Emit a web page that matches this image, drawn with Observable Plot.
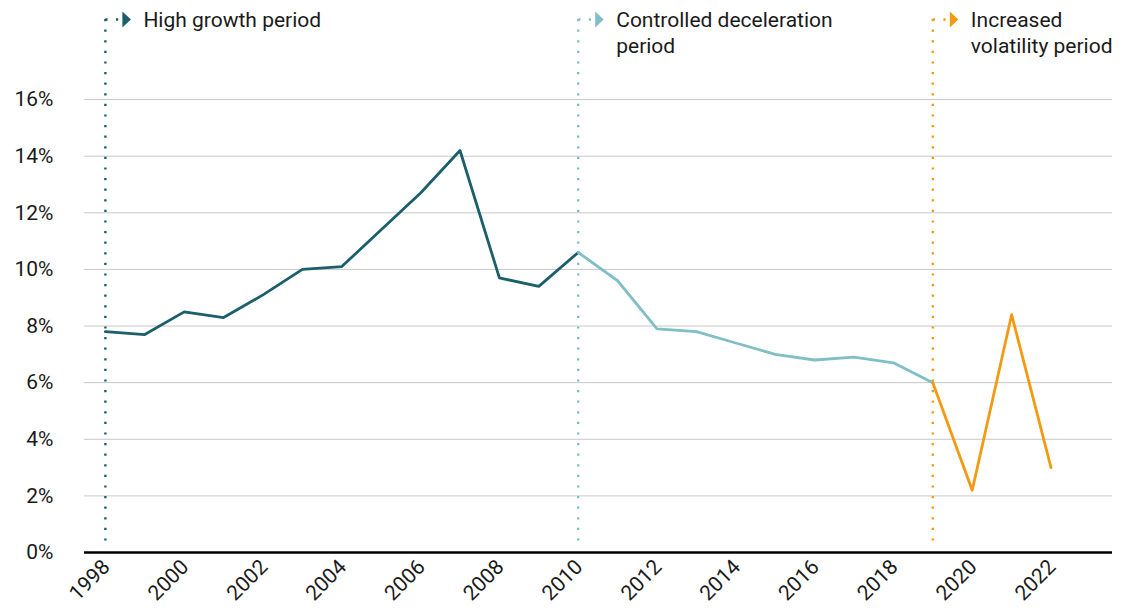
<!DOCTYPE html>
<html><head><meta charset="utf-8">
<script src="https://cdn.jsdelivr.net/npm/d3@7"></script>
<script src="https://cdn.jsdelivr.net/npm/@observablehq/plot@0.6"></script>
<style>html,body{margin:0;padding:0;background:#fff}</style>
</head><body><div id="chart"></div>
<script>
const years = [1998,1999,2000,2001,2002,2003,2004,2005,2006,2007,2008,2009,2010,2011,2012,2013,2014,2015,2016,2017,2018,2019,2020,2021,2022];
const growth = [7.8,7.7,8.5,8.3,9.1,10.0,10.1,11.4,12.7,14.2,9.7,9.4,10.6,9.6,7.9,7.8,7.4,7.0,6.8,6.9,6.7,6.0,2.2,8.4,3.0];
const periodNames = ["High growth period", "Controlled deceleration\nperiod", "Increased\nvolatility period"];
const periodStarts = [1998, 2010, 2019];
const periodEnds = [2010, 2019, 2022];
const periodColors = ["#1b5f6b", "#80bfc6", "#f39a12"];
const xTicks = [1998,2000,2002,2004,2006,2008,2010,2012,2014,2016,2018,2020,2022];
const yTicks = [0,2,4,6,8,10,12,14,16];

const periods = periodNames.map((name, i) => ({name, start: periodStarts[i], end: periodEnds[i], color: periodColors[i]}));
const rows = periods.flatMap(p => years.map((year, i) => ({year, value: growth[i], period: p.name, color: p.color}))
  .filter(d => d.year >= p.start && d.year <= p.end));

const hline = {draw(ctx) { ctx.moveTo(0, 0); ctx.lineTo(14, 0); }};
const tri = {draw(ctx) { ctx.moveTo(-4, -8); ctx.lineTo(4.5, 0); ctx.lineTo(-4, 8); ctx.closePath(); }};
const font = "Roboto, 'Noto Sans', sans-serif";
const ink = "#1a1a1a";

const chart = Plot.plot({
  width: 1124,
  height: 612,
  marginLeft: 84,
  marginRight: 12,
  marginTop: 0,
  marginBottom: 60,
  style: {fontFamily: font, fontSize: "21px", color: ink, background: "#fff", overflow: "visible"},
  x: {domain: [1997.47, 2023.56], label: null},
  y: {domain: [0, 19.5], label: null},
  color: {type: "identity"},
  marks: [
    Plot.ruleY(yTicks.filter(d => d > 0), {stroke: "#c8c8c8", strokeWidth: 1}),
    Plot.ruleX(periods, {x: "start", stroke: "color", strokeWidth: 2.4, strokeDasharray: "2.2,8.4", insetTop: 19, insetBottom: 7}),
    Plot.dot(periods, {x: "start", frameAnchor: "top", dy: 19, symbol: hline, stroke: "color", fill: "none", strokeWidth: 2.4, strokeDasharray: "2.2,8.4"}),
    Plot.dot(periods, {x: "start", frameAnchor: "top", dy: 19, dx: 21, symbol: tri, fill: "color", stroke: "none"}),
    Plot.text(periods, {x: "start", frameAnchor: "top", dy: 8, dx: 38, text: "name", textAnchor: "start", lineAnchor: "top", lineHeight: 1.24, fill: ink, fontSize: 21}),
    Plot.line(rows, {x: "year", y: "value", z: "period", stroke: "color", strokeWidth: 2.8}),
    Plot.ruleY([0], {stroke: "#000", strokeWidth: 2.6}),
    Plot.axisY({ticks: yTicks, tickSize: 0, tickPadding: 31, tickFormat: d => d + "%", fontSize: 21, fill: ink, label: null}),
    Plot.axisX({ticks: xTicks, tickFormat: d => String(d), tickRotate: -45, tickSize: 0, tickPadding: 10, dx: 1, dy: 1, fontSize: 21, fill: ink, label: null})
  ]
});
document.getElementById("chart").appendChild(chart);
</script>
</body></html>
